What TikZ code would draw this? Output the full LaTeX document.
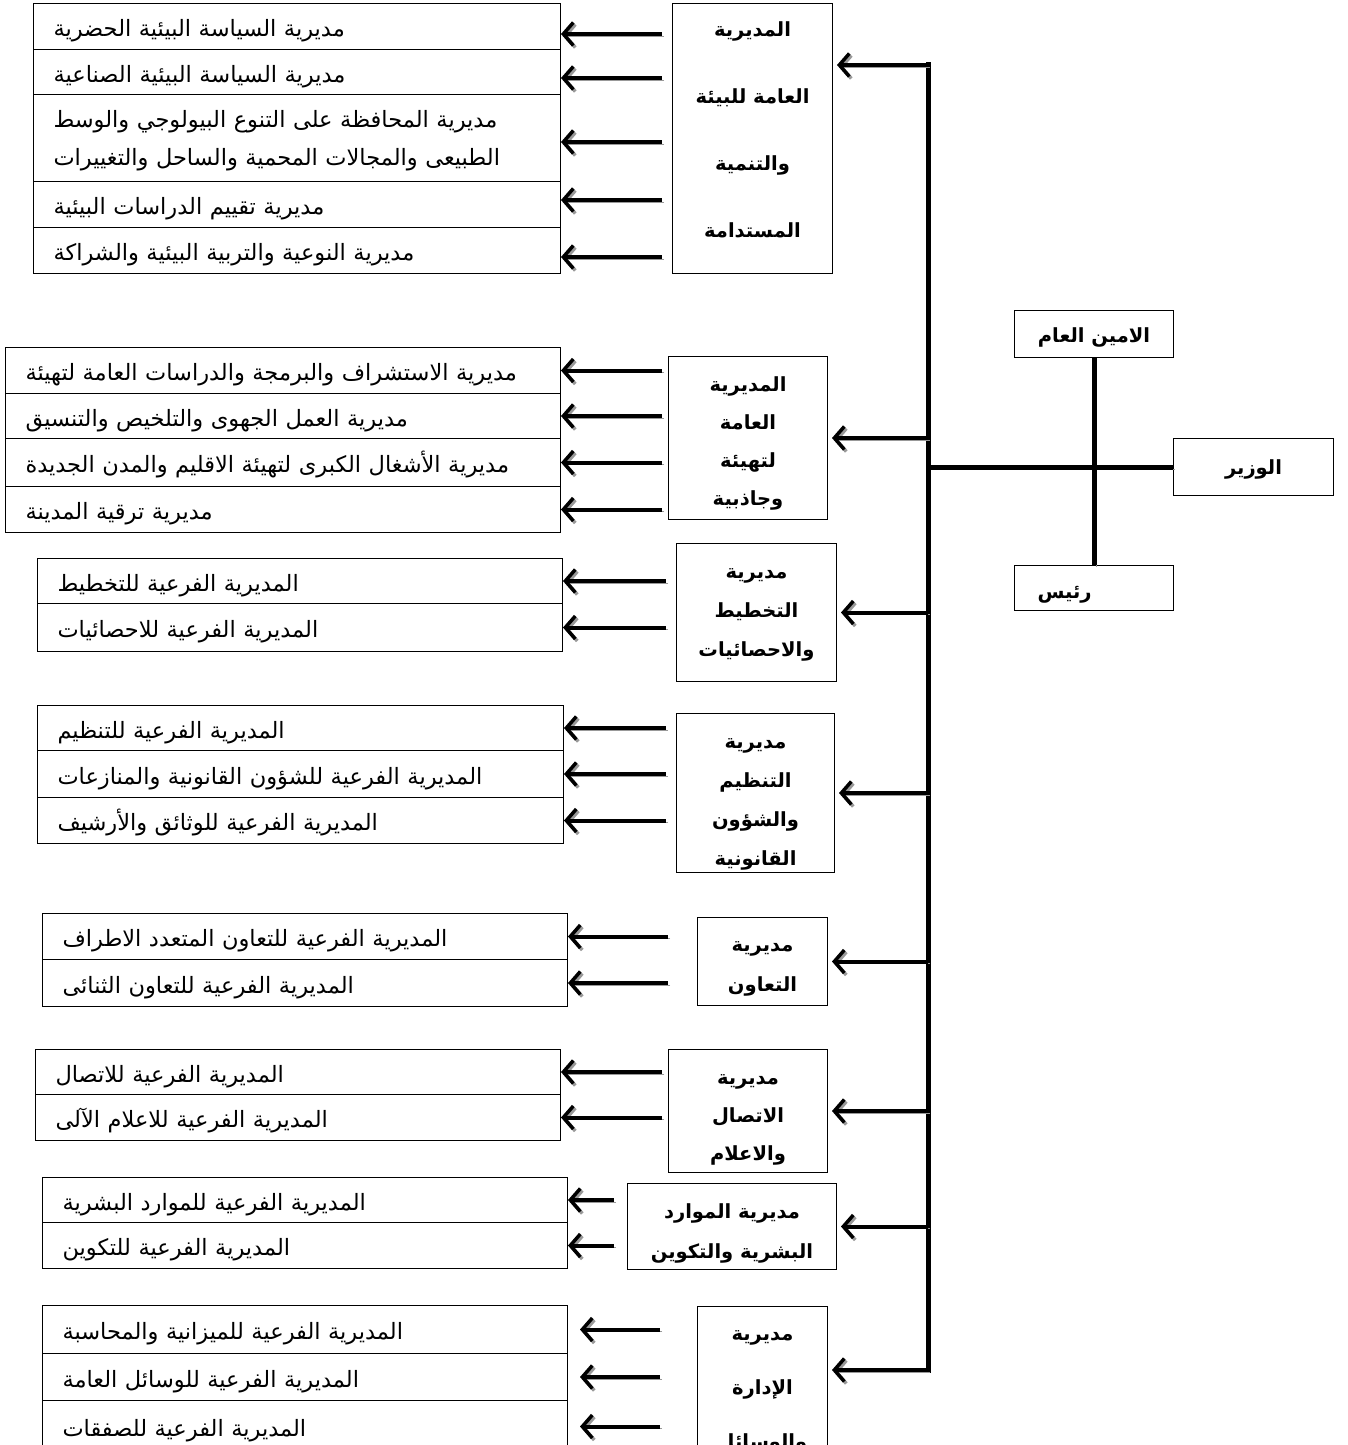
\documentclass[tikz,border=0pt]{standalone}
\usepackage{fontspec}
\usetikzlibrary{arrows.meta}
\newfontfamily\arabicfont[Script=Arabic]{DejaVu Sans}
\TeXXeTstate=1
\newcommand{\artext}[1]{\beginR #1\endR}

\tikzset{
  subbox/.style 2 args={draw, line width=1pt, anchor=north west, inner xsep=20pt, inner ysep=0pt,
    align=left, text width=#1, minimum height=#2, text height=20pt, text depth=0pt,
    font=\arabicfont\fontsize{22.5}{38}\selectfont},
  dirbox/.style={draw, line width=1pt, anchor=north west, inner sep=0pt, align=center,
    text height=#1, text depth=0pt, font=\arabicfont\bfseries\fontsize{19.5}{39}\selectfont},
  shadowline/.style={preaction={draw=black!40, transform canvas={shift={(2pt,-2pt)}}}},
  link/.style={shadowline, line width=4pt, -{Straight Barb[length=10pt,width=23pt,line width=3.5pt]}},
  trunk/.style={shadowline, line width=5pt, line cap=rect},
}

\begin{document}
\begin{tikzpicture}[x=1pt,y=-1pt]
\useasboundingbox (0,0) rectangle (1347,1445);

% minister and the two boxes beside him
\node [dirbox=15pt, minimum width=160, minimum height=57] (wazir) at (1173,438) {\artext{الوزير}};
\node [dirbox=17pt, minimum width=159, minimum height=47] (amin) at (1014,310) {\artext{الامين العام}};
\node [dirbox=21pt, minimum width=159, minimum height=45, align=left, text width=113, inner xsep=23pt] (raees) at (1014,565) {\artext{رئيس}};

% environment and sustainable development
\node [subbox={487pt}{46}] (s1a) at (33,3) {\artext{مديرية السياسة البيئية الحضرية}};
\node [subbox={487pt}{45}] (s1b) at (33,49) {\artext{مديرية السياسة البيئية الصناعية}};
\node [subbox={487pt}{87}, text height=17pt, text depth=38pt] (s1c) at (33,94) {\artext{مديرية المحافظة على التنوع البيولوجي والوسط}\\\artext{الطبيعى والمجالات المحمية والساحل والتغييرات}};
\node [subbox={487pt}{46}] (s1d) at (33,181) {\artext{مديرية تقييم الدراسات البيئية}};
\node [subbox={487pt}{46}] (s1e) at (33,227) {\artext{مديرية النوعية والتربية البيئية والشراكة}};
\node [dirbox=198pt, minimum width=160, minimum height=270, font=\arabicfont\bfseries\fontsize{19.5}{67}\selectfont] (d1) at (672,3) {\artext{المديرية}\\\artext{العامة للبيئة}\\\artext{والتنمية}\\\artext{المستدامة}};

% planning and attractiveness
\node [subbox={515pt}{46}] (s2a) at (5,347) {\artext{مديرية الاستشراف والبرمجة والدراسات العامة لتهيئة}};
\node [subbox={515pt}{45}] (s2b) at (5,393) {\artext{مديرية العمل الجهوى والتلخيص والتنسيق}};
\node [subbox={515pt}{48}] (s2c) at (5,438) {\artext{مديرية الأشغال الكبرى لتهيئة الاقليم والمدن الجديدة}};
\node [subbox={515pt}{46}] (s2d) at (5,486) {\artext{مديرية ترقية المدينة}};
\node [dirbox=135pt, minimum width=159, minimum height=163, font=\arabicfont\bfseries\fontsize{19.5}{38}\selectfont] (d2) at (668,356) {\artext{المديرية}\\\artext{العامة}\\\artext{لتهيئة}\\\artext{وجاذبية}};

% planning and statistics
\node [subbox={485pt}{45}] (s3a) at (37,558) {\artext{المديرية الفرعية للتخطيط}};
\node [subbox={485pt}{48}] (s3b) at (37,603) {\artext{المديرية الفرعية للاحصائيات}};
\node [dirbox=88pt, minimum width=160, minimum height=138] (d3) at (676,543) {\artext{مديرية}\\\artext{التخطيط}\\\artext{والاحصائيات}};

% organisation and legal affairs
\node [subbox={486pt}{45}] (s4a) at (37,705) {\artext{المديرية الفرعية للتنظيم}};
\node [subbox={486pt}{47}] (s4b) at (37,750) {\artext{المديرية الفرعية للشؤون القانونية والمنازعات}};
\node [subbox={486pt}{46}] (s4c) at (37,797) {\artext{المديرية الفرعية للوثائق والأرشيف}};
\node [dirbox=145pt, minimum width=158, minimum height=159] (d4) at (676,713) {\artext{مديرية}\\\artext{التنظيم}\\\artext{والشؤون}\\\artext{القانونية}};

% cooperation
\node [subbox={485pt}{46}] (s5a) at (42,913) {\artext{المديرية الفرعية للتعاون المتعدد الاطراف}};
\node [subbox={485pt}{47}] (s5b) at (42,959) {\artext{المديرية الفرعية للتعاون الثنائى}};
\node [dirbox=60pt, minimum width=130, minimum height=88, font=\arabicfont\bfseries\fontsize{19.5}{40}\selectfont] (d5) at (697,917) {\artext{مديرية}\\\artext{التعاون}};

% communication
\node [subbox={485pt}{45}] (s6a) at (35,1049) {\artext{المديرية الفرعية للاتصال}};
\node [subbox={485pt}{46}] (s6b) at (35,1094) {\artext{المديرية الفرعية للاعلام الآلى}};
\node [dirbox=99pt, minimum width=159, minimum height=123, font=\arabicfont\bfseries\fontsize{19.5}{38}\selectfont] (d6) at (668,1049) {\artext{مديرية}\\\artext{الاتصال}\\\artext{والاعلام}};

% human resources
\node [subbox={485pt}{45}] (s7a) at (42,1177) {\artext{المديرية الفرعية للموارد البشرية}};
\node [subbox={485pt}{46}] (s7b) at (42,1222) {\artext{المديرية الفرعية للتكوين}};
\node [dirbox=64pt, minimum width=209, minimum height=86, font=\arabicfont\bfseries\fontsize{19.5}{40}\selectfont] (d7) at (627,1183) {\artext{مديرية الموارد}\\\artext{البشرية والتكوين}};

% administration (cut at the page foot)
\node [subbox={485pt}{48}] (s8a) at (42,1305) {\artext{المديرية الفرعية للميزانية والمحاسبة}};
\node [subbox={485pt}{47}] (s8b) at (42,1353) {\artext{المديرية الفرعية للوسائل العامة}};
\node [subbox={485pt}{52}] (s8c) at (42,1400) {\artext{المديرية الفرعية للصفقات}};
\node [dirbox=128pt, minimum width=130, minimum height=156, font=\arabicfont\bfseries\fontsize{19.5}{54}\selectfont] (d8) at (697,1306) {\artext{مديرية}\\\artext{الإدارة}\\\artext{والوسائل}};

% arrows to the sub-directorates
\draw [link] (662,34) -- (662,34 -| s1a.east);
\draw [link] (662,78) -- (662,78 -| s1b.east);
\draw [link] (662,142) -- (662,142 -| s1c.east);
\draw [link] (662,200) -- (662,200 -| s1d.east);
\draw [link] (662,257) -- (662,257 -| s1e.east);
\draw [link] (662,0 |- s2a) -- (s2a.east);
\draw [link] (662,0 |- s2b) -- (s2b.east);
\draw [link] (662,0 |- s2c) -- (s2c.east);
\draw [link] (662,0 |- s2d) -- (s2d.east);
\draw [link] (666,0 |- s3a) -- (s3a.east);
\draw [link] (666,0 |- s3b) -- (s3b.east);
\draw [link] (666,0 |- s4a) -- (s4a.east);
\draw [link] (666,0 |- s4b) -- (s4b.east);
\draw [link] (666,0 |- s4c) -- (s4c.east);
\draw [link] (668,0 |- s5a) -- (s5a.east);
\draw [link] (668,0 |- s5b) -- (s5b.east);
\draw [link] (662,0 |- s6a) -- (s6a.east);
\draw [link] (662,0 |- s6b) -- (s6b.east);
\draw [link] (614,0 |- s7a) -- (s7a.east);
\draw [link] (614,0 |- s7b) -- (s7b.east);
\draw [link, shorten >=12pt] (660,0 |- s8a) -- (s8a.east);
\draw [link, shorten >=12pt] (660,0 |- s8b) -- (s8b.east);
\draw [link, shorten >=12pt] (660,0 |- s8c) -- (s8c.east);

% trunk from the minister to the directorates
\coordinate (ttop) at (928,65);
\coordinate (tbot) at (928,1370);
\draw [trunk] (ttop) -- (tbot);
\draw [shadowline, line width=5pt] (wazir.west) -- (ttop |- wazir.west);
\draw [shadowline, line width=5pt] (amin.south) -- (raees.north);
\draw [link, shorten >=4pt] (ttop) -- (ttop -| d1.east);
\draw [link, shorten >=4pt] (ttop |- d2) -- (d2.east);
\draw [link, shorten >=4pt] (ttop |- d3) -- (d3.east);
\draw [link, shorten >=4pt] (ttop |- d4) -- (d4.east);
\draw [link, shorten >=4pt] (ttop |- d5) -- (d5.east);
\draw [link, shorten >=4pt] (ttop |- d6) -- (d6.east);
\draw [link, shorten >=4pt] (ttop |- d7) -- (d7.east);
\draw [link, shorten >=4pt] (tbot) -- (tbot -| d8.east);
\end{tikzpicture}
\end{document}
